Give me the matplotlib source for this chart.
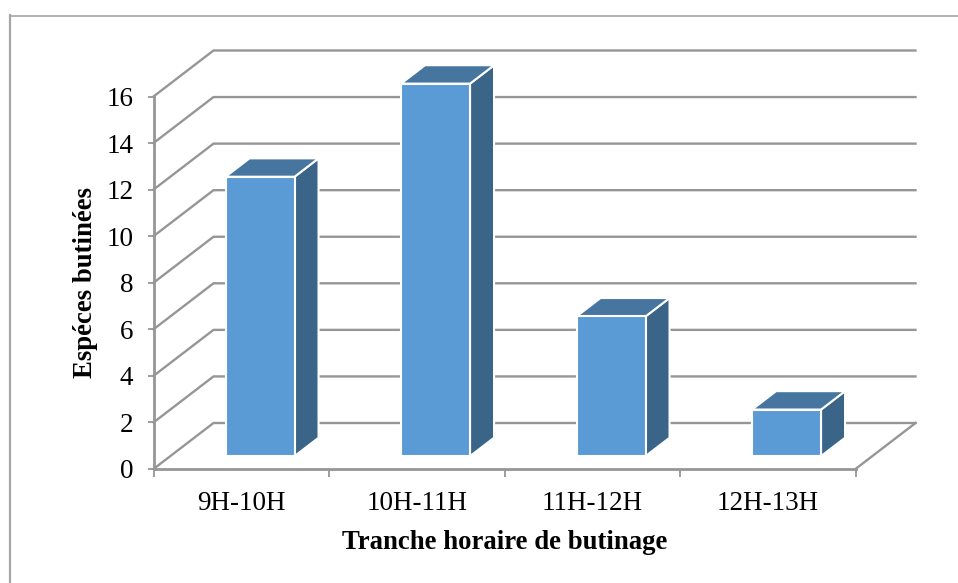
import matplotlib
matplotlib.use("Agg")
import matplotlib.pyplot as plt
from matplotlib.patches import Polygon

plt.rcParams['font.family'] = ['Liberation Serif', 'DejaVu Serif']

# data
categories = ['9H-10H', '10H-11H', '11H-12H', '12H-13H']
values = [12, 16, 6, 2]
y_ticks = [0, 2, 4, 6, 8, 10, 12, 14, 16]

W, H = 958, 583
GRID = '#969696'
FRONT = '#5b9bd5'
TOP = '#4675a0'
SIDE = '#3a6488'

fig = plt.figure(figsize=(W / 100, H / 100), dpi=100)

# plot area in pixels (front plane of the 3D box)
left, right, bottom, top = 153.5, 855.5, 469, 96.5
ax = fig.add_axes([left / W, 1 - bottom / H, (right - left) / W, (bottom - top) / H])
ax.set_xlim(0, len(categories))
ax.set_ylim(0, 16)
ax.patch.set_visible(False)

# depth of the box in data units
px_x = len(categories) / (right - left)
px_y = 16 / (bottom - top)
DX = 60 * px_x
DY = 46 * px_y

def proj(x, y, d):
    """Oblique projection, d=0 front plane, d=1 back wall."""
    return x + d * DX, y + d * DY

# walls: gridlines go up the side wall then along the back
for v in y_ticks:
    pts = [proj(0, v, 0), proj(0, v, 1), proj(len(categories), v, 1)]
    ax.plot(*zip(*pts), color=GRID, lw=1.7, clip_on=False, zorder=1, solid_joinstyle='miter')
floor = [proj(len(categories), 0, 0), proj(len(categories), 0, 1)]
ax.plot(*zip(*floor), color=GRID, lw=1.7, clip_on=False, zorder=1)

# bars
bar_w = 69 * px_x
d0, d1 = 0.28, 0.68
shift = 2 * px_x
for i, v in enumerate(values):
    xc = i + 0.5 + shift
    x0 = xc - bar_w / 2
    x1 = xc + bar_w / 2
    top_pts = [proj(x0, v, d0), proj(x1, v, d0), proj(x1, v, d1), proj(x0, v, d1)]
    side_pts = [proj(x1, 0, d0), proj(x1, 0, d1), proj(x1, v, d1), proj(x1, v, d0)]
    front_pts = [proj(x0, 0, d0), proj(x1, 0, d0), proj(x1, v, d0), proj(x0, v, d0)]
    for pts, col in [(side_pts, SIDE), (top_pts, TOP), (front_pts, FRONT)]:
        ax.add_patch(Polygon(pts, closed=True, facecolor=col, edgecolor='white',
                             lw=1.5, clip_on=False, zorder=3, joinstyle='miter'))

# axes
for s in ['top', 'right']:
    ax.spines[s].set_visible(False)
for s in ['left', 'bottom']:
    ax.spines[s].set_color(GRID)
    ax.spines[s].set_linewidth(2)
    ax.spines[s].set_zorder(2)

ax.set_yticks(y_ticks)
ax.tick_params(axis='y', length=4.5, width=1.3, color=GRID, labelsize=19.5, pad=10)
ax.set_xticks(range(len(categories) + 1))
ax.set_xticklabels([])
ax.tick_params(axis='x', which='major', length=5.5, width=1.3, color=GRID)
ax.set_xticks([i + 0.5 for i in range(len(categories))], minor=True)
ax.set_xticklabels(categories, minor=True)
ax.tick_params(axis='x', which='minor', length=0, labelsize=19.5, pad=16)

ax.set_ylabel('Espéces butinées', fontsize=19.3, fontweight='bold')
ax.set_xlabel('Tranche horaire de butinage', fontsize=19.3, fontweight='bold')
ax.yaxis.set_label_coords(-0.0795, 0.5)
ax.xaxis.set_label_coords(0.5, -0.163)

# chart frame, only top and left edges are visible in the crop
fig.add_artist(plt.Line2D([9.5 / W, 1], [1 - 15.5 / H] * 2, color='#a6a6a6', lw=1.2))
fig.add_artist(plt.Line2D([9.5 / W] * 2, [0, 1 - 15 / H], color='#a6a6a6', lw=1.6))

fig.savefig('out.png', dpi=100)
